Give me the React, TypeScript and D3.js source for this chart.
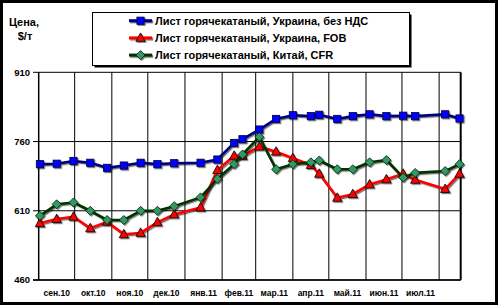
import React from 'react';
import * as d3 from 'd3';

const dates = [
  '2010-09-02', '2010-09-16', '2010-09-30', '2010-10-14', '2010-10-28', '2010-11-11',
  '2010-11-25', '2010-12-09', '2010-12-23', '2011-01-14', '2011-01-28', '2011-02-11',
  '2011-02-18', '2011-03-04', '2011-03-18', '2011-04-01', '2011-04-16', '2011-04-23',
  '2011-05-08', '2011-05-21', '2011-06-04', '2011-06-18', '2011-07-02', '2011-07-12',
  '2011-08-06', '2011-08-18',
];
const ukraineNoVat = [
  711, 712, 718, 714, 703, 708, 714, 711, 713, 714, 721, 757, 765,
  786, 809, 817, 815, 818, 809, 815, 819, 815, 816, 815, 819, 810,
];
const ukraineFob = [
  583, 592, 597, 572, 586, 559, 562, 585, 602, 617, 698, 729, 729,
  749, 738, 724, 709, 690, 638, 646, 667, 678, 690, 677, 657, 690,
];
const chinaCfr = [
  599, 624, 628, 610, 590, 590, 610, 610, 620, 639, 679, 711, 732,
  770, 700, 711, 715, 719, 700, 700, 715, 720, 682, 692, 696, 711,
];
const seriesNames = [
  'Лист горячекатаный, Украина, без НДС',
  'Лист горячекатаный, Украина, FOB',
  'Лист горячекатаный, Китай, CFR',
];
const yTicks = [460, 610, 760, 910];
const monthLabels = [
  'сен.10', 'окт.10', 'ноя.10', 'дек.10', 'янв.11', 'фев.11',
  'мар.11', 'апр.11', 'май.11', 'июн.11', 'июл.11',
];
const axisStart = '2010-09-01';
const axisEnd = '2011-08-19';

const FONT = '"Liberation Sans", Arial, sans-serif';

type Kind = 'square' | 'triangle' | 'diamond';

function Marker({ kind, cx, cy, fill, stroke }: { kind: Kind; cx: number; cy: number; fill: string; stroke: string }) {
  if (kind === 'square') {
    return <rect x={cx - 3.6} y={cy - 3.6} width={7.2} height={7.2} fill={fill} stroke={stroke} strokeWidth={0.8} />;
  }
  if (kind === 'triangle') {
    const p = [[cx, cy - 5], [cx + 4.6, cy + 3.4], [cx - 4.6, cy + 3.4]];
    return <polygon points={p.map((q) => q.join(',')).join(' ')} fill={fill} stroke={stroke} strokeWidth={0.8} />;
  }
  const p = [[cx, cy - 4.5], [cx + 4.5, cy], [cx, cy + 4.5], [cx - 4.5, cy]];
  return <polygon points={p.map((q) => q.join(',')).join(' ')} fill={fill} stroke={stroke} strokeWidth={0.8} />;
}

export default function App() {
  const W = 500;
  const H = 306;
  const left = 38.7;
  const right = 460.7;
  const top = 72.3;
  const bottom = 280;
  const parse = d3.utcParse('%Y-%m-%d');
  const start = parse(axisStart) as Date;
  const end = parse(axisEnd) as Date;
  const x = d3.scaleUtc().domain([start, end]).range([left, right]);
  const y = d3.scaleLinear().domain([460, 910]).range([bottom, top]);
  const pts = dates.map((d) => parse(d) as Date);

  const monthStarts = d3.utcMonth.range(d3.utcMonth.offset(start, 1), end);
  const labelMonths = d3.utcMonth.range(start, d3.utcMonth.offset(start, monthLabels.length));

  const series = [
    { name: seriesNames[0], values: ukraineNoVat, line: '#000080', fill: '#0000FF', stroke: '#000033', kind: 'square' as Kind },
    { name: seriesNames[1], values: ukraineFob, line: '#FF0000', fill: '#FF0000', stroke: '#000000', kind: 'triangle' as Kind },
    { name: seriesNames[2], values: chinaCfr, line: '#003300', fill: '#339966', stroke: '#002200', kind: 'diamond' as Kind },
  ];

  const lineGen = d3
    .line<number>()
    .x((_, i) => x(pts[i]))
    .y((v) => y(v));

  return (
    <svg width={W} height={H} style={{ position: 'absolute', left: 0, top: 0, background: '#fff' }} fontFamily={FONT}>
      <defs>
        <filter id="sh" x="-10%" y="-10%" width="130%" height="130%">
          <feDropShadow dx="1.2" dy="1.2" stdDeviation="0.4" floodColor="#000" floodOpacity="0.55" />
        </filter>
      </defs>
      <rect x={0} y={0} width={W} height={H} fill="#fff" />
      {/* outer border */}
      <rect x={1.5} y={1.5} width={495} height={302} fill="none" stroke="#000" strokeWidth={3} />

      {/* axis title */}
      <text x={24} y={26} textAnchor="middle" fontSize={11} fontWeight="bold">Цена,</text>
      <text x={25} y={40} textAnchor="middle" fontSize={11} fontWeight="bold">$/т</text>

      {/* horizontal gridlines */}
      {yTicks.map((t) => (
        <g key={t}>
          <line x1={33} x2={right} y1={y(t)} y2={y(t)} stroke="#000" strokeWidth={1} />
          <text x={30} y={y(t) + 3.4} textAnchor="end" fontSize={9.5} fontWeight="bold">{t}</text>
        </g>
      ))}
      {/* vertical gridlines */}
      {monthStarts.map((m) => (
        <line key={m.toISOString()} x1={x(m)} x2={x(m)} y1={top} y2={bottom} stroke="#000" strokeWidth={1} />
      ))}
      {/* axes */}
      <line x1={left} x2={left} y1={top} y2={bottom} stroke="#000" strokeWidth={1.5} />
      <line x1={right} x2={right} y1={top} y2={bottom} stroke="#000" strokeWidth={2} />
      <line x1={33} x2={right} y1={bottom} y2={bottom} stroke="#000" strokeWidth={1.5} />

      {/* x labels */}
      {labelMonths.map((m, i) => {
        const next = d3.utcMonth.offset(m, 1);
        const cx = (x(m) + x(next)) / 2;
        return (
          <text key={i} x={cx} y={296} textAnchor="middle" fontSize={8.5} fontWeight="bold">{monthLabels[i]}</text>
        );
      })}

      {/* series */}
      {series.map((s) => (
        <g key={s.name} filter="url(#sh)">
          <path d={lineGen(s.values) || ''} fill="none" stroke={s.line} strokeWidth={2.6} strokeLinejoin="round" />
          {s.values.map((v, i) => (
            <Marker key={i} kind={s.kind} cx={x(pts[i])} cy={y(v)} fill={s.fill} stroke={s.stroke} />
          ))}
        </g>
      ))}

      {/* legend */}
      <rect x={94.5} y={14.5} width={317} height={53} fill="#000" />
      <rect x={92.5} y={12.5} width={317} height={53} fill="#fff" stroke="#000" strokeWidth={1} />
      {series.map((s, i) => {
        const cy = 20.7 + i * 17.2;
        return (
          <g key={s.name}>
            <g filter="url(#sh)">
              <line x1={129} x2={152} y1={cy} y2={cy} stroke={s.line} strokeWidth={3} />
              <Marker kind={s.kind} cx={140.5} cy={cy} fill={s.fill} stroke={s.stroke} />
            </g>
            <text x={155} y={cy + 4} fontSize={11} fontWeight="bold">{s.name}</text>
          </g>
        );
      })}
    </svg>
  );
}
